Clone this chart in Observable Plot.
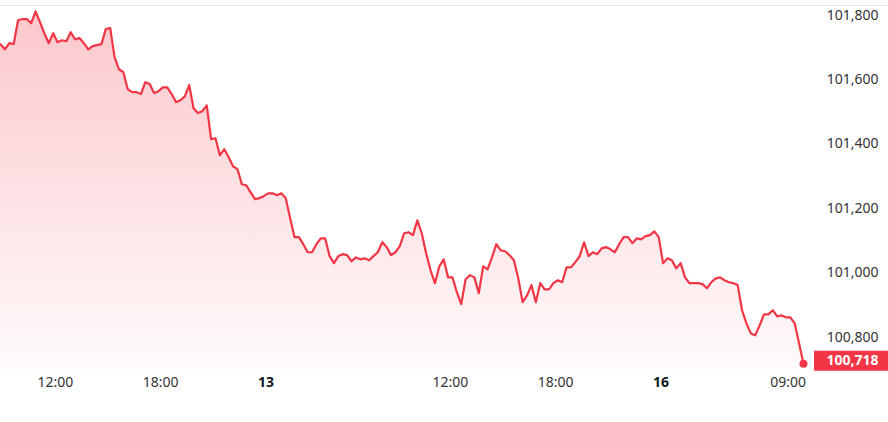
<!DOCTYPE html>
<html>
<head>
<meta charset="utf-8">
<script src="https://cdn.jsdelivr.net/npm/d3@7"></script>
<script src="https://cdn.jsdelivr.net/npm/@observablehq/plot@0.6"></script>
<style>
  html, body { margin: 0; padding: 0; background: #fff; }
  #chart { width: 888px; height: 422px; overflow: hidden; }
</style>
</head>
<body>
<div id="chart"></div>
<script>
// Price series (one value per 15-minute slot)
const prices = [
  101710, 101694, 101713, 101710, 101784, 101788, 101788, 101775, 101812, 101778,
  101744, 101713, 101744, 101716, 101722, 101719, 101747, 101725, 101729, 101713,
  101694, 101704, 101707, 101710, 101757, 101760, 101670, 101632, 101623, 101570,
  101561, 101561, 101555, 101592, 101586,
  101558, 101564, 101576, 101576, 101555, 101530, 101536, 101548, 101583, 101511,
  101496, 101502, 101520, 101415, 101418, 101365, 101384, 101359, 101331, 101322,
  101275, 101272, 101250, 101229, 101232, 101238, 101247, 101247, 101241, 101247,
  101232,
  101170, 101111, 101111, 101089, 101064, 101064, 101089, 101107, 101107, 101052,
  101030, 101052, 101058, 101055, 101036, 101048, 101042, 101045, 101039, 101052,
  101064, 101095, 101080, 101055, 101064, 101083, 101123, 101126, 101117, 101163,
  101123,
  101061, 101008, 100968, 101020, 101042, 100986, 100986, 100940, 100903, 100980,
  100993, 100986, 100937, 101020, 101011, 101048, 101089, 101070, 101067, 101055,
  101039, 100983, 100909, 100930, 100962, 100909, 100968, 100949, 100949, 100968,
  100977, 100971,
  101017, 101017, 101033, 101052, 101095, 101052, 101064, 101058, 101076, 101080,
  101073, 101064, 101089, 101111, 101111, 101092, 101107, 101104, 101114, 101117,
  101129, 101111, 101030, 101045, 101039, 101014, 101030, 100986, 100968, 100968,
  100968, 100965, 100952,
  100971, 100983, 100986, 100977, 100971, 100968, 100962, 100884, 100843, 100812,
  100806, 100837, 100871, 100871, 100884, 100865, 100868, 100862, 100862, 100843,
  100781, 100718
];

// X-axis tick positions (in slot units) and labels
const tickSlots  = [12.5, 36.5, 60.5, 102.5, 126.5, 150.5, 179.5];
const tickLabels = ["12:00", "18:00", "13", "12:00", "18:00", "16", "09:00"];
const tickBold   = [false, false, true, false, false, true, false];

// Y-axis ticks
const yTicks = [100800, 101000, 101200, 101400, 101600, 101800];
const yDomain = [100700, 101830];

const data = prices.map((v, i) => ({ i, v }));
const ticks = tickSlots.map((s, k) => ({ s, label: tickLabels[k], bold: tickBold[k] }));
const last = data[data.length - 1];
const fmt = d3.format(",");

const RED = "#f23645";
const FONT = "'Noto Sans', sans-serif";

const chart = Plot.plot({
  width: 888,
  height: 422,
  marginLeft: 0,
  marginRight: 85,
  marginTop: 5,
  marginBottom: 53,
  style: { fontFamily: FONT, fontSize: "14px", background: "#fff", overflow: "visible" },
  x: { domain: [0, prices.length - 1], axis: null },
  y: { domain: yDomain, axis: null },
  marks: [
    Plot.ruleY([yDomain[1]], { stroke: "#e0e3eb", strokeWidth: 1, insetRight: -85 }),
    Plot.areaY(data, { x: "i", y1: () => yDomain[0], y2: "v", fill: "url(#areaGrad)", curve: "linear" }),
    Plot.lineY(data, { x: "i", y: "v", stroke: RED, strokeWidth: 2.2, curve: "linear", strokeLinejoin: "round" }),
    Plot.dot([last], { x: "i", y: "v", r: 4, fill: RED }),
    // y tick labels
    Plot.text(yTicks, { y: d => d, text: d => fmt(d), frameAnchor: "right", dx: 75, textAnchor: "end", fill: "#333" }),
    // last value badge
    Plot.ruleY([last], { y: "v", stroke: RED, strokeWidth: 20, insetLeft: 814, insetRight: -85, dy: -3 }),
    Plot.text([last], { y: "v", text: d => fmt(d.v), frameAnchor: "right", dx: 75, dy: -3, textAnchor: "end", fill: "#fff", fontWeight: "bold" }),
    // x tick labels
    Plot.text(ticks.filter(d => !d.bold), { x: "s", text: "label", frameAnchor: "bottom", dy: 17, fill: "#333" }),
    Plot.text(ticks.filter(d => d.bold), { x: "s", text: "label", frameAnchor: "bottom", dy: 17, fill: "#131722", fontWeight: "bold" })
  ]
});

const svg = d3.select(chart);
const defs = svg.insert("defs", ":first-child");
const g = defs.append("linearGradient")
  .attr("id", "areaGrad")
  .attr("gradientUnits", "userSpaceOnUse")
  .attr("x1", 0).attr("x2", 0).attr("y1", 5).attr("y2", 400);
g.append("stop").attr("offset", "0%").attr("stop-color", RED).attr("stop-opacity", 0.28);
g.append("stop").attr("offset", "100%").attr("stop-color", RED).attr("stop-opacity", 0.0);

document.getElementById("chart").appendChild(chart);
</script>
</body>
</html>
